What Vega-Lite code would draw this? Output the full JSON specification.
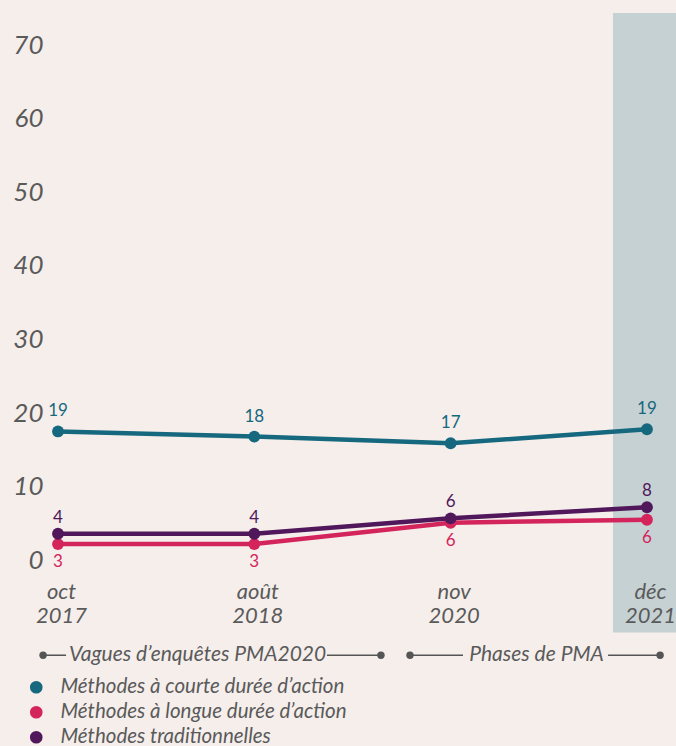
{
  "$schema": "https://vega.github.io/schema/vega-lite/v6.json",
  "width": 628,
  "height": 654,
  "autosize": {"type": "none"},
  "padding": {"left": 48, "top": 13, "right": 0, "bottom": 79},
  "background": "#f5eeeb",
  "config": {
    "view": {"stroke": null},
    "font": "Lato",
    "legend": {
      "orient": "none",
      "legendX": -22,
      "legendY": 664,
      "direction": "vertical",
      "padding": 0,
      "symbolType": "circle",
      "symbolSize": 160,
      "symbolStrokeWidth": 0,
      "symbolOpacity": 1,
      "labelOffset": 14,
      "labelFont": "Lato",
      "labelFontStyle": "italic",
      "labelFontSize": 20.5,
      "labelColor": "#5a5a5a",
      "labelLimit": 400,
      "rowPadding": 4
    }
  },
  "datasets": {
    "series": [
      {"t": 0, "serie": "Méthodes à courte durée d’action", "v": 17.5, "etiquette": "19"},
      {"t": 1, "serie": "Méthodes à courte durée d’action", "v": 16.8, "etiquette": "18"},
      {"t": 2, "serie": "Méthodes à courte durée d’action", "v": 15.9, "etiquette": "17"},
      {"t": 3, "serie": "Méthodes à courte durée d’action", "v": 17.8, "etiquette": "19"},
      {"t": 0, "serie": "Méthodes à longue durée d’action", "v": 2.2, "etiquette": "3"},
      {"t": 1, "serie": "Méthodes à longue durée d’action", "v": 2.2, "etiquette": "3"},
      {"t": 2, "serie": "Méthodes à longue durée d’action", "v": 5.1, "etiquette": "6"},
      {"t": 3, "serie": "Méthodes à longue durée d’action", "v": 5.5, "etiquette": "6"},
      {"t": 0, "serie": "Méthodes traditionnelles", "v": 3.6, "etiquette": "4"},
      {"t": 1, "serie": "Méthodes traditionnelles", "v": 3.6, "etiquette": "4"},
      {"t": 2, "serie": "Méthodes traditionnelles", "v": 5.7, "etiquette": "6"},
      {"t": 3, "serie": "Méthodes traditionnelles", "v": 7.2, "etiquette": "8"}
    ],
    "band": [{"t": 2.827, "t2": 3.174, "v": 74.35, "v2": -9.8}],
    "annotLines": [
      {"t": -0.076, "t2": 0.041, "v": -12.9},
      {"t": 1.37, "t2": 1.645, "v": -12.9},
      {"t": 1.793, "t2": 2.063, "v": -12.9},
      {"t": 2.802, "t2": 3.067, "v": -12.9}
    ],
    "annotDots": [
      {"t": -0.076, "v": -12.9},
      {"t": 1.645, "v": -12.9},
      {"t": 1.793, "v": -12.9},
      {"t": 3.067, "v": -12.9}
    ],
    "annotText": [
      {"t": 0.711, "v": -12.9, "texte": "Vagues d’enquêtes PMA2020"},
      {"t": 2.4376, "v": -12.9, "texte": "Phases de PMA"}
    ]
  },
  "encoding": {
    "x": {
      "field": "t",
      "type": "quantitative",
      "scale": {"domain": [-0.0509, 3.148], "nice": false, "zero": false},
      "axis": {
        "values": [0, 1, 2, 3],
        "labelExpr": "datum.value == 0 ? ['oct', '2017'] : datum.value == 1 ? ['août', '2018'] : datum.value == 2 ? ['nov', '2020'] : ['déc', '2021']",
        "orient": "bottom",
        "offset": -69,
        "zindex": 1,
        "ticks": false,
        "tickSize": 0,
        "domain": false,
        "grid": false,
        "labelPadding": 0,
        "labelOffset": 3,
        "labelBaseline": "alphabetic",
        "labelLineHeight": 24,
        "labelFont": "Lato",
        "labelFontStyle": "italic",
        "labelFontSize": 22,
        "labelColor": "#5a5a5a",
        "labelFlush": false,
        "labelOverlap": false,
        "labelBound": false,
        "title": null
      }
    },
    "y": {
      "field": "v",
      "type": "quantitative",
      "scale": {"domain": [-14.5, 74.35], "nice": false, "zero": false},
      "axis": {
        "values": [0, 10, 20, 30, 40, 50, 60, 70],
        "zindex": 1,
        "ticks": false,
        "domain": false,
        "grid": false,
        "labelPadding": 5,
        "labelFont": "Lato",
        "labelFontStyle": "italic",
        "labelFontSize": 26,
        "labelColor": "#5a5a5a",
        "labelFlush": false,
        "labelOverlap": false,
        "title": null
      }
    }
  },
  "layer": [
    {
      "data": {"name": "band"},
      "mark": {"type": "rect", "color": "#c6d1d3"},
      "encoding": {"x2": {"field": "t2"}, "y2": {"field": "v2"}}
    },
    {
      "data": {"name": "series"},
      "mark": {"type": "line", "strokeWidth": 4.5},
      "encoding": {
        "color": {
          "field": "serie",
          "type": "nominal",
          "scale": {
            "domain": ["Méthodes à courte durée d’action", "Méthodes à longue durée d’action", "Méthodes traditionnelles"],
            "range": ["#16687e", "#d4245c", "#50185a"]
          },
          "legend": {"title": null}
        }
      }
    },
    {
      "data": {"name": "series"},
      "mark": {"type": "point", "filled": true, "opacity": 1, "size": 140},
      "encoding": {
        "color": {
          "field": "serie",
          "type": "nominal",
          "legend": {"title": null}
        }
      }
    },
    {
      "data": {"name": "series"},
      "transform": [{"filter": "datum.serie == 'Méthodes à courte durée d’action'"}],
      "mark": {"type": "text", "dy": -20, "fontSize": 17, "font": "Lato", "color": "#16687e"},
      "encoding": {"text": {"field": "etiquette"}}
    },
    {
      "data": {"name": "series"},
      "transform": [{"filter": "datum.serie == 'Méthodes traditionnelles'"}],
      "mark": {"type": "text", "dy": -16, "fontSize": 17, "font": "Lato", "color": "#50185a"},
      "encoding": {"text": {"field": "etiquette"}}
    },
    {
      "data": {"name": "series"},
      "transform": [{"filter": "datum.serie == 'Méthodes à longue durée d’action'"}],
      "mark": {"type": "text", "dy": 18, "fontSize": 17, "font": "Lato", "color": "#d4245c"},
      "encoding": {"text": {"field": "etiquette"}}
    },
    {
      "data": {"name": "annotLines"},
      "mark": {"type": "rule", "color": "#555555", "strokeWidth": 1.5},
      "encoding": {"x2": {"field": "t2"}}
    },
    {
      "data": {"name": "annotDots"},
      "mark": {"type": "point", "filled": true, "opacity": 1, "size": 55, "color": "#555555"}
    },
    {
      "data": {"name": "annotText"},
      "mark": {"type": "text", "font": "Lato", "fontStyle": "italic", "fontSize": 21, "color": "#5a5a5a", "baseline": "middle"},
      "encoding": {"text": {"field": "texte"}}
    }
  ]
}
